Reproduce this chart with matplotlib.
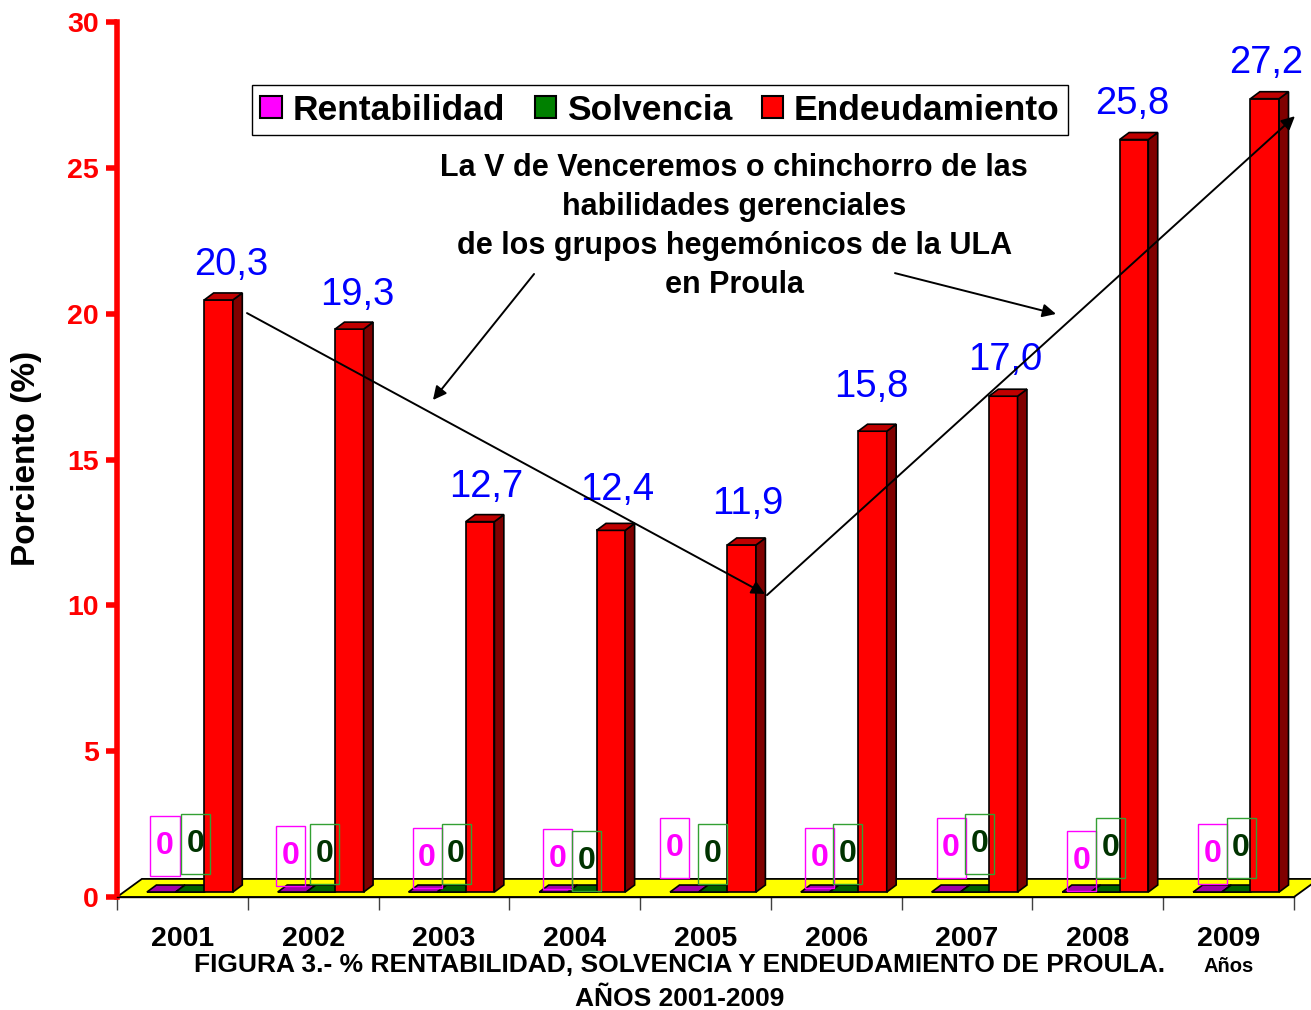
import numpy as np
import matplotlib.pyplot as plt
from matplotlib.patches import Polygon, Rectangle, Patch

plt.rcParams['font.family'] = ['Liberation Sans', 'DejaVu Sans']

# Datos
years = ['2001', '2002', '2003', '2004', '2005', '2006', '2007', '2008', '2009']
rentabilidad = [0, 0, 0, 0, 0, 0, 0, 0, 0]
solvencia = [0, 0, 0, 0, 0, 0, 0, 0, 0]
endeudamiento = [20.3, 19.3, 12.7, 12.4, 11.9, 15.8, 17.0, 25.8, 27.2]
series_names = ['Rentabilidad', 'Solvencia', 'Endeudamiento']
y_ticks = [0, 5, 10, 15, 20, 25, 30]

# Colores (frente, lado, tapa) de cada serie
colores = [
    ('#FF00FF', '#800080', '#A000A8'),
    ('#008000', '#004000', '#006000'),
    ('#FF0000', '#800000', '#C00000'),
]

# Ubicación manual de las etiquetas "0" dentro de cada año (como en el original)
rent_lbl_x = [0.367, 0.325, 0.371, 0.371, 0.264, 0.371, 0.378, 0.375, 0.375]
rent_lbl_y = [1.75, 1.41, 1.35, 1.29, 1.68, 1.34, 1.68, 1.23, 1.47]
solv_lbl_x = [0.600, 0.589, 0.593, 0.589, 0.554, 0.589, 0.596, 0.600, 0.596]
solv_lbl_y = [1.82, 1.49, 1.47, 1.23, 1.49, 1.47, 1.82, 1.68, 1.68]
# Desplazamiento de las etiquetas azules respecto a cada barra
endeu_lbl_dx = [0.095, 0.058, 0.044, 0.046, 0.047, -0.011, 0.013, -0.015, 0.008]
endeu_lbl_lift = [0.86, 0.82, 0.86, 1.03, 1.06, 1.17, 0.89, 0.86, 0.89]

# geometría del efecto 3D
base = 0.17
w = 0.219
x_start = 0.229
dx, dy = 0.072, 0.24
floor_dx, floor_dy = 0.19, 0.62


def barra3d(ax, x0, valor, frente, lado, tapa):
    t = valor + base
    kw = dict(ec='black', lw=1.2, zorder=3, joinstyle='miter')
    ax.add_patch(Rectangle((x0, base), w, valor, fc=frente, **kw))
    ax.add_patch(Polygon([(x0 + w, base), (x0 + w + dx, base + dy),
                          (x0 + w + dx, t + dy), (x0 + w, t)], fc=lado, **kw))
    ax.add_patch(Polygon([(x0, t), (x0 + dx, t + dy),
                          (x0 + w + dx, t + dy), (x0 + w, t)], fc=tapa, **kw))


fig = plt.figure(figsize=(13.11, 10.10), dpi=100)
ax = fig.add_axes([117 / 1311, 113 / 1010, 1177 / 1311, 875 / 1010])
ax.set_xlim(0, 9)
ax.set_ylim(0, 30)

# piso amarillo
ax.add_patch(Polygon([(0, 0), (9, 0), (9 + floor_dx, floor_dy), (floor_dx, floor_dy)],
                     fc='#FFFF00', ec='black', lw=1.3, zorder=1, clip_on=False))

for i in range(len(years)):
    for k, serie in enumerate([rentabilidad, solvencia, endeudamiento]):
        x0 = i + x_start + k * w
        barra3d(ax, x0, serie[i], *colores[k])

    # etiquetas de valor de Endeudamiento
    x0 = i + x_start + 2 * w
    txt = f"{endeudamiento[i]:.1f}".replace('.', ',')
    ax.text(x0 + w / 2 + endeu_lbl_dx[i], endeudamiento[i] + base + endeu_lbl_lift[i], txt,
            ha='center', va='baseline', color='#0000FF', fontsize=27.5, zorder=6)

    # etiquetas "0" con recuadro
    bw, bh = 0.222, 2.06
    for cx, cy, val, ec, fc in [(i + rent_lbl_x[i], rent_lbl_y[i], rentabilidad[i], '#FF00FF', '#FF00FF'),
                                (i + solv_lbl_x[i], solv_lbl_y[i], solvencia[i], '#33A033', '#003300')]:
        ax.add_patch(Rectangle((cx - bw / 2, cy - bh / 2), bw, bh, fill=False,
                               ec=ec, lw=1.0, zorder=4))
        ax.text(cx, cy, f"{val:g}", ha='center', va='center', color=fc,
                fontsize=23, fontweight='bold', zorder=5)

# ejes
ax.spines['top'].set_visible(False)
ax.spines['right'].set_visible(False)
ax.spines['left'].set_color('red')
ax.spines['left'].set_linewidth(4)
ax.spines['bottom'].set_color('black')
ax.spines['bottom'].set_linewidth(1)

ax.set_yticks(y_ticks)
ax.set_yticklabels([str(v) for v in y_ticks], fontweight='bold')
ax.tick_params(axis='y', colors='red', length=8, width=4, labelsize=20.5, pad=5)

ax.set_xticks(np.arange(10))
ax.set_xticklabels([])
ax.tick_params(axis='x', which='major', length=9, width=1, color='#404040')
ax.set_xticks(np.arange(9) + 0.5, minor=True)
ax.set_xticklabels(years, minor=True, fontsize=20.5, fontweight='bold')
ax.tick_params(axis='x', which='minor', length=0, pad=21)

# texto y flechas
titulo = ['La V de Venceremos o chinchorro de las',
          'habilidades gerenciales',
          'de los grupos hegemónicos de la ULA',
          'en Proula']
for j, linea in enumerate(titulo):
    ax.text(4.72, 25.0 - j * 1.34, linea, ha='center', va='center',
            fontsize=22, fontweight='bold', zorder=6)

flechas = [((0.994, 20.02), (4.955, 10.39)),
           ((4.970, 10.35), (9.007, 26.77)),
           ((3.189, 21.36), (2.416, 17.04)),
           ((5.949, 21.39), (7.180, 19.99))]
for ini, fin in flechas:
    ax.annotate('', xy=fin, xytext=ini, annotation_clip=False, zorder=7,
                arrowprops=dict(arrowstyle='-|>', color='black', lw=1.4,
                                mutation_scale=20, shrinkA=0, shrinkB=0))

handles = [Patch(fc=c[0], ec='black', lw=1.5) for c in colores]
leg = fig.legend(handles, series_names, loc='center', bbox_to_anchor=(660 / 1311, 900 / 1010),
                 ncol=3, prop={'size': 25.5, 'weight': 'bold'}, frameon=True, fancybox=False,
                 edgecolor='black', framealpha=1, handlelength=0.6, handleheight=0.6,
                 handletextpad=0.3, columnspacing=0.85, borderpad=0.25, borderaxespad=0)
leg.get_frame().set_linewidth(1.0)

fig.text(27 / 1311, 552 / 1010, 'Porciento (%)', rotation=90, ha='center', va='center',
         fontsize=24, fontweight='bold')
fig.text(680 / 1311, 45 / 1010,
         'FIGURA 3.- % RENTABILIDAD, SOLVENCIA Y ENDEUDAMIENTO DE PROULA.',
         ha='center', va='center', fontsize=19, fontweight='bold')
fig.text(680 / 1311, 11 / 1010, 'AÑOS 2001-2009', ha='center', va='center',
         fontsize=19, fontweight='bold')
fig.text(1229 / 1311, 44 / 1010, 'Años', ha='center', va='center',
         fontsize=14.5, fontweight='bold')

fig.savefig('out.png', dpi=100)
